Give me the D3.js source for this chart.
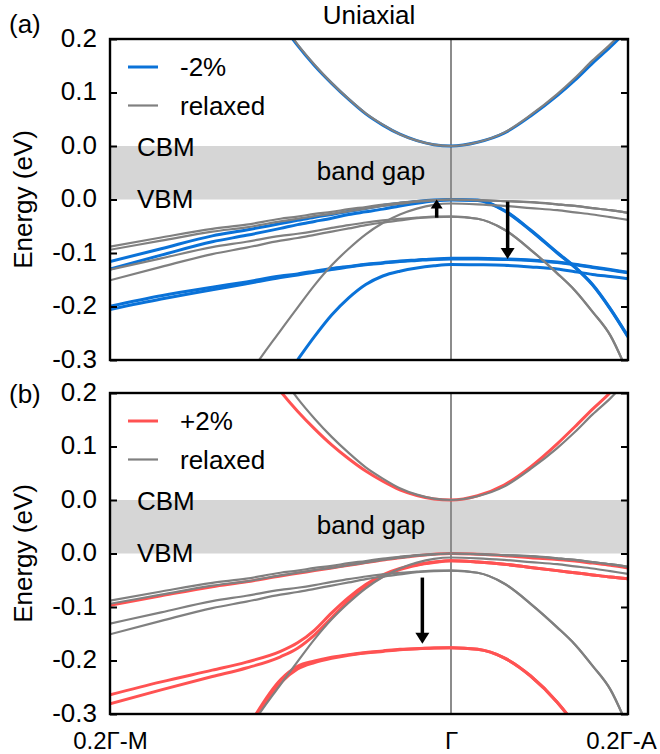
<!DOCTYPE html>
<html><head><meta charset="utf-8">
<script src="https://cdn.jsdelivr.net/npm/d3@7/dist/d3.min.js"></script>
<style>
html,body{margin:0;padding:0;background:#fff;}
text{font-family:"Liberation Sans",Arial,Helvetica,sans-serif;fill:#000;}
</style></head>
<body>
<svg id="chart" width="660" height="754"></svg>
<script>
// ---- data ----
const kGrid = [-1,-0.85,-0.7,-0.6,-0.5,-0.45,-0.4,-0.35,-0.3,-0.25,-0.2,-0.15,-0.1,-0.05,0,0.15,0.3,0.45,0.6,0.7,0.8,0.9,1.0];
const kTickLabels = ["0.2\u0393-M","\u0393","0.2\u0393-A"];
const kTickValues = [-1,0,1];
const cbTicks = [0.2,0.1,0.0];
const vbTicks = [0.0,-0.1,-0.2,-0.3];

// conduction bands (relative to CBM, eV)
const cbRelaxed = [0.9,0.68,0.46,0.34,0.235,0.19,0.152,0.118,0.088,0.061,0.04,0.022,0.01,0.0025,0,0.007,0.025,0.058,0.097,0.127,0.16,0.19,0.225];
const cbMinus2  = [0.89,0.67,0.455,0.336,0.232,0.188,0.150,0.117,0.087,0.060,0.039,0.022,0.01,0.0025,0,0.007,0.024,0.056,0.094,0.123,0.155,0.185,0.218];
const cbPlus2   = [0.77,0.57,0.39,0.29,0.203,0.166,0.133,0.103,0.077,0.054,0.035,0.019,0.0085,0.002,0,0.008,0.028,0.062,0.105,0.137,0.170,0.201,0.24];

// valence bands, relaxed (relative to VBM, eV)
const vbRelaxed1 = [-0.088,-0.071,-0.055,-0.047,-0.036,-0.032,-0.027,-0.023,-0.018,-0.014,-0.0095,-0.006,-0.003,-0.001,0,-0.001,-0.003,-0.005,-0.009,-0.012,-0.016,-0.020,-0.025];
const vbRelaxed2 = [-0.094,-0.077,-0.060,-0.052,-0.041,-0.036,-0.031,-0.027,-0.022,-0.017,-0.012,-0.008,-0.004,-0.0015,0,-0.001,-0.003,-0.005,-0.009,-0.012,-0.016,-0.020,-0.025];
const vbRelaxed3 = [-0.9,-0.69,-0.455,-0.336,-0.245,-0.202,-0.160,-0.123,-0.092,-0.065,-0.044,-0.028,-0.017,-0.010,-0.0075,-0.009,-0.012,-0.016,-0.020,-0.024,-0.028,-0.033,-0.038];
const vbRelaxed4 = [-0.131,-0.110,-0.089,-0.079,-0.068,-0.064,-0.059,-0.053,-0.048,-0.043,-0.039,-0.036,-0.034,-0.032,-0.032,-0.036,-0.056,-0.094,-0.138,-0.170,-0.210,-0.254,-0.325];
const vbRelaxed5 = [-0.151,-0.126,-0.102,-0.090,-0.077,-0.072,-0.066,-0.060,-0.054,-0.048,-0.043,-0.039,-0.035,-0.033,-0.032,-0.036,-0.056,-0.094,-0.138,-0.170,-0.210,-0.254,-0.325];

// valence bands, -2% strain
const vbMinus2_1 = [-0.116,-0.092,-0.068,-0.057,-0.045,-0.039,-0.033,-0.028,-0.022,-0.017,-0.011,-0.007,-0.0035,-0.001,0,-0.001,-0.020,-0.057,-0.099,-0.126,-0.159,-0.204,-0.256];
const vbMinus2_2 = [-0.130,-0.104,-0.079,-0.067,-0.054,-0.047,-0.041,-0.035,-0.028,-0.023,-0.018,-0.012,-0.007,-0.003,-0.001,-0.002,-0.021,-0.058,-0.100,-0.127,-0.160,-0.205,-0.257];
const vbMinus2_3 = [-0.1995,-0.180,-0.164,-0.154,-0.143,-0.139,-0.134,-0.129,-0.125,-0.121,-0.118,-0.115,-0.113,-0.111,-0.110,-0.110,-0.111,-0.113,-0.117,-0.121,-0.126,-0.131,-0.136];
const vbMinus2_4 = [-0.2055,-0.186,-0.1685,-0.1575,-0.146,-0.141,-0.136,-0.131,-0.126,-0.122,-0.119,-0.116,-0.114,-0.112,-0.111,-0.111,-0.112,-0.114,-0.118,-0.122,-0.127,-0.132,-0.137];
const vbMinus2_5 = [-0.8,-0.65,-0.5,-0.41,-0.345,-0.30,-0.256,-0.216,-0.184,-0.159,-0.143,-0.134,-0.128,-0.124,-0.1215,-0.122,-0.123,-0.126,-0.130,-0.135,-0.140,-0.144,-0.148];

// valence bands, +2% strain
const vbPlus2_1 = [-0.097,-0.079,-0.062,-0.053,-0.042,-0.037,-0.032,-0.027,-0.022,-0.017,-0.012,-0.008,-0.004,-0.0015,0,-0.0015,-0.004,-0.008,-0.011,-0.014,-0.018,-0.022,-0.027];
const vbPlus2_2 = [-0.264,-0.240,-0.218,-0.203,-0.183,-0.167,-0.143,-0.111,-0.082,-0.058,-0.040,-0.028,-0.021,-0.016,-0.0137,-0.016,-0.020,-0.026,-0.032,-0.036,-0.040,-0.044,-0.047];
const vbPlus2_3 = [-0.281,-0.255,-0.230,-0.214,-0.193,-0.177,-0.152,-0.120,-0.088,-0.062,-0.043,-0.030,-0.022,-0.017,-0.0137,-0.016,-0.020,-0.026,-0.032,-0.036,-0.040,-0.044,-0.047];
const vbPlus2_4 = [-0.8,-0.63,-0.45,-0.33,-0.236,-0.211,-0.201,-0.194,-0.189,-0.185,-0.182,-0.179,-0.178,-0.1765,-0.176,-0.179,-0.195,-0.229,-0.278,-0.32,-0.37,-0.43,-0.5];
const vbPlus2_5 = [-0.8,-0.64,-0.46,-0.336,-0.242,-0.216,-0.204,-0.196,-0.190,-0.186,-0.183,-0.180,-0.178,-0.1765,-0.176,-0.179,-0.195,-0.229,-0.278,-0.32,-0.37,-0.43,-0.5];

// arrows [k, E_from, E_to]
const arrowsA = [[-0.042,-0.034,0.0],[0.32,-0.004,-0.111]];
const arrowsB = [[-0.084,-0.045,-0.1685]];

const legendA = ["-2%","relaxed"];
const legendB = ["+2%","relaxed"];

// ---- drawing ----
const svg = d3.select("#chart");
const FONT = 26;
const FAM = "Liberation Sans, Arial, Helvetica, sans-serif";
const L = 110, R = 628, XG = 451;
const x = d3.scaleLinear().domain([-1,0,1]).range([L,XG,R]);
const cGray = "#808080", cBlue = "#0a72d8", cRed = "#ff5252", cGap = "#d6d6d6";

const panels = [
  {top:39, label:"(a)", labelY:33, strain:cBlue, legend:legendA, cb:cbMinus2, vb:[vbMinus2_1,vbMinus2_2,vbMinus2_3,vbMinus2_4,vbMinus2_5], arrows:arrowsA, xlabels:false, id:"a"},
  {top:393, label:"(b)", labelY:403, strain:cRed, legend:legendB, cb:cbPlus2, vb:[vbPlus2_1,vbPlus2_2,vbPlus2_3,vbPlus2_4,vbPlus2_5], arrows:arrowsB, xlabels:true, id:"b"}
];
const relaxedVB = [vbRelaxed1,vbRelaxed2,vbRelaxed3,vbRelaxed4,vbRelaxed5];
const unit = 53.5;

svg.append("text").attr("x",369).attr("y",24).attr("text-anchor","middle")
  .attr("font-size",FONT).text("Uniaxial");

panels.forEach((p,pi) => {
  const top = p.top, cbm = top + 2*unit, vbm = cbm + unit, bot = vbm + 3*unit;
  const yc = d3.scaleLinear().domain([0,0.2]).range([cbm,top]);
  const yv = d3.scaleLinear().domain([-0.3,0]).range([bot,vbm]);
  const g = svg.append("g");

  const clipId = "clip"+p.id;
  svg.append("clipPath").attr("id",clipId).append("rect")
    .attr("x",L).attr("y",top).attr("width",R-L).attr("height",bot-top);

  // band gap
  g.append("rect").attr("x",L).attr("y",cbm).attr("width",R-L).attr("height",vbm-cbm).attr("fill",cGap);
  // Gamma line
  g.append("line").attr("x1",x(0)).attr("x2",x(0)).attr("y1",top).attr("y2",bot)
    .attr("stroke","#8c8c8c").attr("stroke-width",2);

  const lc = d3.line().x((d,i)=>x(kGrid[i])).y(d=>yc(d)).curve(d3.curveMonotoneX);
  const lv = d3.line().x((d,i)=>x(kGrid[i])).y(d=>yv(d)).curve(d3.curveMonotoneX);
  const bands = g.append("g").attr("clip-path",`url(#${clipId})`);

  // strained bands
  bands.append("path").attr("d",lc(p.cb)).attr("fill","none").attr("stroke",p.strain).attr("stroke-width",3);
  p.vb.forEach(b => bands.append("path").attr("d",lv(b)).attr("fill","none").attr("stroke",p.strain).attr("stroke-width",3));
  // relaxed bands
  bands.append("path").attr("d",lc(cbRelaxed)).attr("fill","none").attr("stroke",cGray).attr("stroke-width",2.2);
  relaxedVB.forEach(b => bands.append("path").attr("d",lv(b)).attr("fill","none").attr("stroke",cGray).attr("stroke-width",2.2));

  // arrows
  p.arrows.forEach(a => {
    const ax = x(a[0]), y0 = yv(a[1]), y1 = yv(a[2]);
    const dir = Math.sign(y1-y0);
    const small = Math.abs(y1-y0) < 30;
    const hl = small ? 9 : 11, hw = small ? 6 : 7;
    g.append("line").attr("x1",ax).attr("x2",ax).attr("y1",y0).attr("y2",y1-dir*hl+dir*1)
      .attr("stroke","#000").attr("stroke-width",3.5);
    g.append("path").attr("d",`M${ax-hw},${y1-dir*hl}L${ax+hw},${y1-dir*hl}L${ax},${y1}Z`).attr("fill","#000");
  });

  // frame
  g.append("rect").attr("x",L).attr("y",top).attr("width",R-L).attr("height",bot-top)
    .attr("fill","none").attr("stroke","#000").attr("stroke-width",2.4);

  // axes (ticks inward)
  const fmt = d => d.toFixed(1);
  const axC = g.append("g").attr("transform",`translate(${L},0)`)
    .call(d3.axisLeft(yc).tickValues(cbTicks).tickFormat(fmt).tickSize(-7).tickPadding(13));
  const axV = g.append("g").attr("transform",`translate(${L},0)`)
    .call(d3.axisLeft(yv).tickValues(vbTicks).tickFormat(fmt).tickSize(-7).tickPadding(13));
  const axC2 = g.append("g").attr("transform",`translate(${R},0)`)
    .call(d3.axisRight(yc).tickValues(cbTicks).tickFormat("").tickSize(-7));
  const axV2 = g.append("g").attr("transform",`translate(${R},0)`)
    .call(d3.axisRight(yv).tickValues(vbTicks).tickFormat("").tickSize(-7));
  [axC,axV,axC2,axV2].forEach(a => {
    a.select(".domain").remove();
    a.selectAll(".tick line").attr("stroke","#000").attr("stroke-width",2);
    a.selectAll(".tick text").attr("font-size",FONT).attr("font-family",FAM).attr("fill","#000").attr("dy","0.28em");
  });

  // x axis labels
  if (p.xlabels) {
    const axX = g.append("g").attr("transform",`translate(0,${bot})`)
      .call(d3.axisBottom(x).tickValues(kTickValues).tickFormat((d,i)=>kTickLabels[i]).tickSize(0).tickPadding(17.7));
    axX.select(".domain").remove();
    axX.selectAll(".tick text").attr("font-size",24).attr("font-family",FAM).attr("fill","#000");
    axX.selectAll(".tick text").filter((d,i)=>i===2).attr("dx",-7);
  }

  // panel label
  svg.append("text").attr("x",9).attr("y",p.labelY).attr("font-size",FONT).text(p.label);
  // y label
  svg.append("text").attr("transform",`translate(32,${vbm}) rotate(-90)`).attr("text-anchor","middle")
    .attr("font-size",FONT).text("Energy (eV)");
  // gap texts
  g.append("text").attr("x",137).attr("y",cbm+10).attr("font-size",FONT).text("CBM");
  g.append("text").attr("x",137).attr("y",vbm+8).attr("font-size",FONT).text("VBM");
  g.append("text").attr("x",371).attr("y",cbm+34).attr("text-anchor","middle").attr("font-size",FONT).text("band gap");

  // legend
  const lg = g.append("g");
  [p.strain,cGray].forEach((c,i) => {
    const ly = top + 28 + i*38.5;
    lg.append("line").attr("x1",128).attr("x2",158).attr("y1",ly).attr("y2",ly)
      .attr("stroke",c).attr("stroke-width",i===0?3:2.2);
    lg.append("text").attr("x",180).attr("y",ly).attr("dy","0.35em").attr("font-size",FONT).text(p.legend[i]);
  });
});
</script>
</body></html>
